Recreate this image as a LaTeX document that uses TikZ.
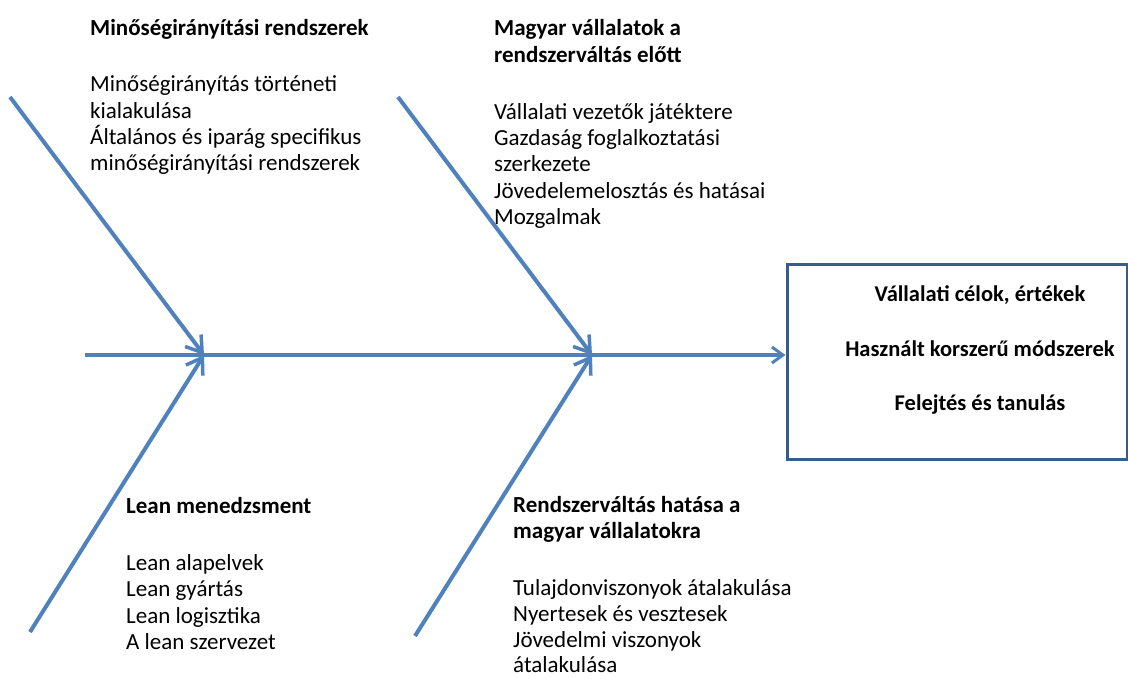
\documentclass[tikz,border=0pt]{standalone}
\usepackage{fontspec}
\setmainfont{Carlito}
\usetikzlibrary{arrows.meta}
\definecolor{bonecol}{HTML}{4F81BD}
\definecolor{framecol}{HTML}{385D8A}
\begin{document}
\begin{tikzpicture}[x=1pt,y=-1pt,
  bone/.style={draw=bonecol,line width=4pt,
    -{Straight Barb[length=15pt,width=20pt,line width=3.5pt]}},
  spine/.style={draw=bonecol,line width=4pt,
    -{Straight Barb[length=11pt,width=16pt,line width=3pt]}},
  causetext/.style={anchor=north west,inner sep=0pt,align=left,
    font=\fontsize{23}{26.4}\selectfont},
  effectbox/.style={draw=framecol,line width=3pt,fill=white,
    minimum width=340pt,minimum height=195pt,inner sep=0pt}]
\useasboundingbox (0,0) rectangle (1128,678);

% effect box at the head of the spine
\node[effectbox] (effect) at (957,361.5) {};
\node[font=\bfseries\fontsize{22.5}{26.5}\selectfont,align=center,inner sep=0pt]
  (effecttext) at (980,350)
  {Vállalati célok, értékek\\[28pt]Használt korszerű módszerek\\[28pt]Felejtés és tanulás};

% spine and joints
\coordinate (tail) at (85,355);
\coordinate (joint1) at (204,355);
\coordinate (joint2) at (592,355);
\draw[spine] (tail) -- (tail -| effect.west);

% bones
\coordinate (b1) at (10,97);
\coordinate (b2) at (398,97);
\coordinate (b3) at (30,632);
\coordinate (b4) at (415,636);
\draw[bone] (b1) -- (joint1);
\draw[bone] (b3) -- (joint1);
\draw[bone] (b2) -- (joint2);
\draw[bone] (b4) -- (joint2);

% cause categories
\node[causetext] (c1) at (90,19)
  {\textbf{Minőségirányítási rendszerek}\\[30pt]
   Minőségirányítás történeti\\
   kialakulása\\
   Általános és iparág specifikus\\
   minőségirányítási rendszerek};
\node[causetext] (c2) at (494,19.5)
  {\textbf{Magyar vállalatok a}\\
   \textbf{rendszerváltás előtt}\\[30.5pt]
   Vállalati vezetők játéktere\\
   Gazdaság foglalkoztatási\\
   szerkezete\\
   Jövedelemelosztás és hatásai\\
   Mozgalmak};
\node[causetext] (c3) at (126,497)
  {\textbf{Lean menedzsment}\\[30.5pt]
   Lean alapelvek\\
   Lean gyártás\\
   Lean logisztika\\
   A lean szervezet};
\node[causetext] (c4) at (513,496)
  {\textbf{Rendszerváltás hatása a}\\
   \textbf{magyar vállalatokra}\\[30pt]
   Tulajdonviszonyok átalakulása\\
   Nyertesek és vesztesek\\
   Jövedelmi viszonyok\\[-1.5pt]
   átalakulása};
\end{tikzpicture}
\end{document}
